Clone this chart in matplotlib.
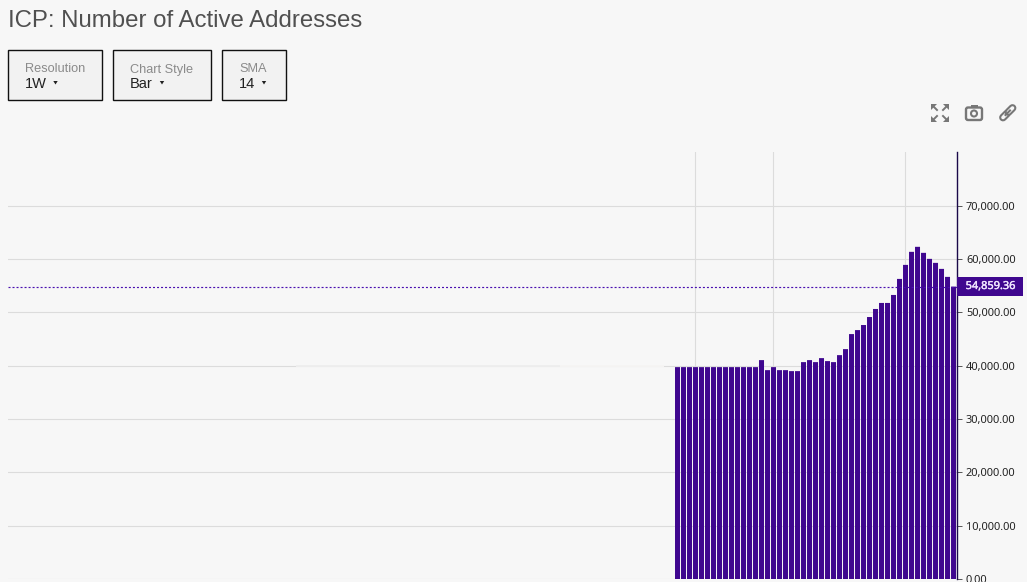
import matplotlib
matplotlib.use("Agg")
import matplotlib.pyplot as plt
import matplotlib.patheffects as pe
from matplotlib.patches import Rectangle, Circle, FancyBboxPatch

plt.rcParams['font.family'] = ['Liberation Sans', 'DejaVu Sans']

# weekly active addresses
active_addresses = [39750] * 14 + [
    41066, 39185, 39750, 39185, 39185, 39000, 39000, 40690, 41066, 40690,
    41440, 40880, 40690, 42000, 43130, 45950, 46700, 47650, 49150, 50660,
    51790, 51790, 53290, 56300, 58930, 61380, 62320, 61190, 60060, 59310,
    58180, 56680, 54859.36,
]
weeks = list(range(len(active_addresses)))
y_ticks = [0, 10000, 20000, 30000, 40000, 50000, 60000, 70000]
x_grid_weeks = [2.92, 15.92, 37.92]
last_value = 54859.36

title = "ICP: Number of Active Addresses"
buttons = [("Resolution", "1W"), ("Chart Style", "Bar"), ("SMA", "14")]

BG = "#f7f7f7"
PURPLE = "#3f078f"
W, H = 1027, 582

fig = plt.figure(figsize=(W / 100, H / 100), dpi=100, facecolor=BG)

# plot area: x 8-957 px, y 152-579 px
ax = fig.add_axes([8 / W, 1 - 579 / H, 949 / W, 427 / H], facecolor=BG)
bars = ax.bar(weeks, active_addresses, width=0.8333, color=PURPLE, zorder=3)
for b in bars:
    b.set_snap(False)
ax.set_xlim(-111.58, 46.58)
ax.set_ylim(0, 80110)

ax.set_yticks(y_ticks)
ax.set_yticklabels([f"{v:,.2f}" for v in y_ticks], fontsize=7.9, color="#222222",
                   family=['Noto Sans'])
ax.yaxis.tick_right()
ax.tick_params(axis='y', length=3.4, width=0.7, color="#555555", pad=3)
ax.set_xticks(x_grid_weeks)
ax.tick_params(axis='x', length=0, labelbottom=False)
ax.grid(True, color="#dcdcdc", linewidth=0.8, zorder=0)
for name in ['top', 'left', 'bottom']:
    ax.spines[name].set_visible(False)
ax.spines['right'].set_color("#1b0a4a")
ax.spines['right'].set_linewidth(1)

# last value line
ax.axhline(last_value, color="#4a0fb0", linewidth=0.85, linestyle=(0, (1.7, 1.7)), zorder=4)

# overlay in pixel coordinates for the page controls
top = fig.add_axes([0, 0, 1, 1], facecolor='none', zorder=5)
top.set_xlim(0, W)
top.set_ylim(H, 0)
top.axis('off')

# the 40,000 gridline fades out under the page's watermark
top.plot([296, 560], [365.5, 365.5], color="#eeeeee", linewidth=1.4, solid_capstyle='butt')
top.plot([560, 664], [365.5, 365.5], color="#f5f4f3", linewidth=1.4, solid_capstyle='butt')

top.add_patch(Rectangle((957, 277), 66, 19, facecolor=PURPLE, edgecolor='none', zorder=1))
top.text(990.5, 286.5, f"{last_value:,.2f}", ha='center', va='center', fontsize=7.9,
         color="#f0e6ff", family=['Noto Sans'], zorder=2,
         path_effects=[pe.withStroke(linewidth=0.3, foreground="#f0e6ff")])

top.text(8, 27, title, fontsize=17.3, color="#505050", va='baseline', ha='left')

boxes = [(8, 95), (113, 99), (222, 65)]
for (x0, w), (label, val) in zip(boxes, buttons):
    top.add_patch(Rectangle((x0 + 0.3, 50.2), w - 1, 50, facecolor="#f2f2f2",
                            edgecolor="#111111", linewidth=1))
    top.text(x0 + 17, 72.5, label, fontsize=9.2, color="#8a8a8a", va='baseline')
    top.text(x0 + 17, 88, val, fontsize=10.5, color="#222222", va='baseline')

arrows = [(55.5, 82.5), (162, 82.5), (264, 82.5)]
for a_x, a_y in arrows:
    top.fill([a_x - 2.2, a_x + 2.2, a_x], [a_y - 1.5, a_y - 1.5, a_y + 2], color="#222222", linewidth=0)

# toolbar icons
ICON = "#777777"
for sx, sy in [(-1, -1), (1, -1), (-1, 1), (1, 1)]:
    cx, cy = 940 + sx * 6, 113 + sy * 6
    top.fill([cx + sx * 3, cx - sx * 3, cx + sx * 3], [cy + sy * 3, cy + sy * 3, cy - sy * 3], color=ICON, linewidth=0)
    top.plot([cx, cx - sx * 3], [cy, cy - sy * 3], color=ICON, linewidth=1.4)
top.add_patch(FancyBboxPatch((966, 107.5), 16, 12.5, boxstyle='round,pad=0,rounding_size=2',
                             facecolor='none', edgecolor=ICON, linewidth=1.7))
top.add_patch(Rectangle((970.5, 105), 7, 2.5, facecolor=ICON, edgecolor='none'))
top.add_patch(Circle((974, 113.5), 3, facecolor='none', edgecolor=ICON, linewidth=1.5))
# link icon, two capsules
top.plot([1003, 1007], [117.5, 113.5], color=ICON, linewidth=5.6, solid_capstyle='round')
top.plot([1003, 1007], [117.5, 113.5], color=BG, linewidth=2.6, solid_capstyle='round')
top.plot([1008.5, 1012.5], [112, 108], color=ICON, linewidth=5.6, solid_capstyle='round')
top.plot([1008.5, 1012.5], [112, 108], color=BG, linewidth=2.6, solid_capstyle='round')
top.plot([1005.5, 1010], [115, 110.5], color=ICON, linewidth=1.5)

fig.savefig("out.png", dpi=100, facecolor=BG)
plt.close(fig)
